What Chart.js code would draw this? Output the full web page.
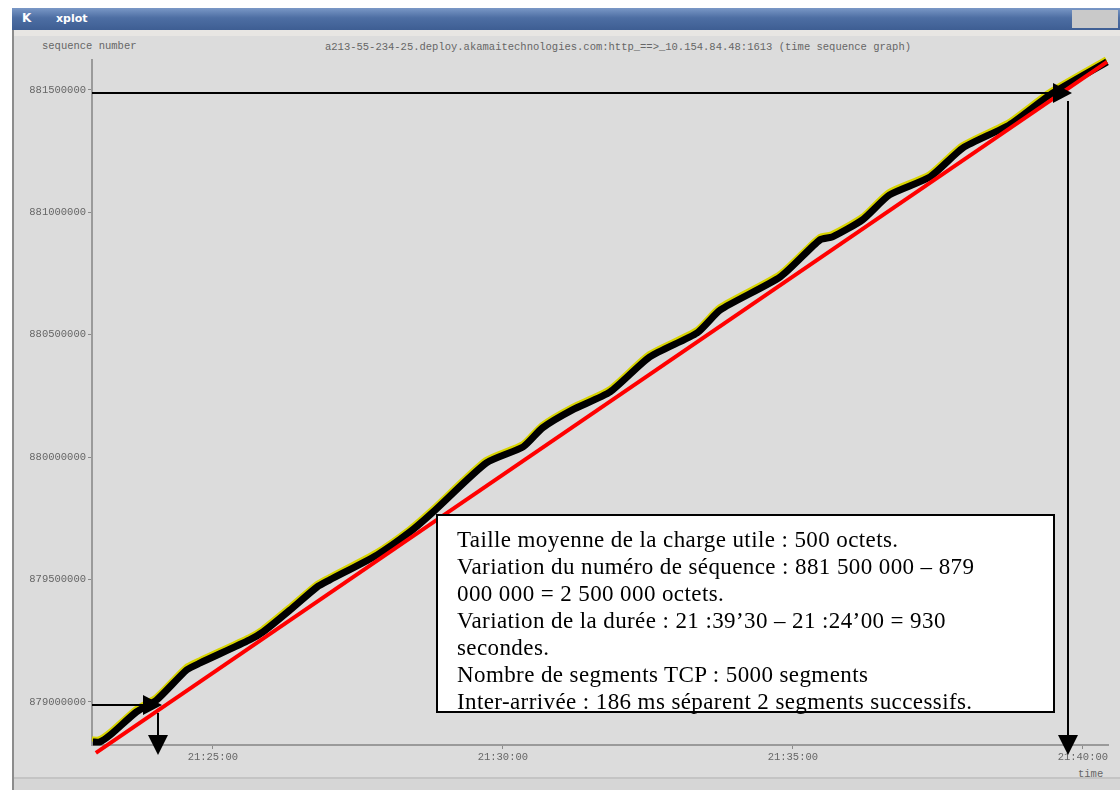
<!DOCTYPE html>
<html>
<head>
<meta charset="utf-8">
<script src="https://cdn.jsdelivr.net/npm/chart.js@4.4.0/dist/chart.umd.min.js"></script>
<style>
  body { margin: 0; width: 1120px; height: 790px; overflow: hidden; position: relative; background: #fff; }
  #win { position: absolute; left: 12px; top: 8px; width: 1108px; height: 782px; background: #dcdcdc;
         border-left: 2px solid #8c8c8c; box-sizing: border-box; }
  #titlebar { position: absolute; left: 12px; top: 8px; width: 1108px; height: 22px;
              background: linear-gradient(#7a98c6, #4d6ea3 45%, #3e5e93); }
  #titlebar .k { position: absolute; left: 10px; top: 3px; color: #fff; font: bold 12px 'DejaVu Sans', sans-serif; }
  #titlebar .name { position: absolute; left: 44px; top: 4px; color: #fff; font: bold 11px 'DejaVu Sans', sans-serif; }
  #titlebar .btns { position: absolute; right: 2px; top: 2px; width: 46px; height: 18px; background: #c9c9c9; }
  #menu { position: absolute; left: 14px; top: 30px; width: 1106px; height: 6px; background: #e8e6e3; }
  .chrome { position: absolute; font: 10.5px 'Liberation Mono', monospace; color: #666; white-space: nowrap; }
  #bottom { position: absolute; left: 14px; top: 777px; width: 1106px; height: 13px; border-top: 2px solid #c4c4c4;
            background: #d6d6d6; }
  canvas { position: absolute; left: 0; top: 0; }
  #note { position: absolute; left: 436px; top: 514px; width: 619px; height: 199px; box-sizing: border-box;
          border: 2px solid #000; background: #fff; padding: 10px 0 0 19px; letter-spacing: 0.4px;
          font: 23px 'Liberation Serif', 'Times New Roman', serif; line-height: 27px; color: #000; white-space: nowrap; }
</style>
</head>
<body>
<div id="win"></div>
<div id="titlebar"><span class="k">K</span><span class="name">xplot</span><div class="btns"></div></div>
<div id="menu"></div>
<div id="bottom"></div>
<div class="chrome" style="left:42px;top:40px;">sequence number</div>
<div class="chrome" style="left:325px;top:41px;">a213-55-234-25.deploy.akamaitechnologies.com:http_==&gt;_10.154.84.48:1613 (time sequence graph)</div>
<div class="chrome" style="left:1078px;top:768px;">time</div>
<canvas id="c" width="1120" height="790"></canvas>
<div id="note">
  <div>Taille moyenne de la charge utile : 500 octets.</div>
  <div>Variation du numéro de séquence : 881 500 000 – 879</div>
  <div>000 000 = 2 500 000 octets.</div>
  <div>Variation de la durée : 21 :39’30 – 21 :24’00 = 930</div>
  <div>secondes.</div>
  <div>Nombre de segments TCP : 5000 segments</div>
  <div>Inter-arrivée : 186 ms séparent 2 segments successifs.</div>
</div>
<script>
// time axis in seconds after 21:00:00
const seqTimes = [1376, 1383, 1394, 1421, 1442, 1473, 1487, 1538, 1552, 1580, 1608, 1621, 1670, 1704,
    1728, 1783, 1821, 1841, 1872, 1911, 1952, 2001, 2025, 2087, 2128, 2141, 2172, 2200, 2242, 2276,
    2324, 2366, 2425];
const seqNumbers = [878836600, 878836600, 878865200, 878959200, 879008200, 879130700, 879159300,
    879253300, 879286000, 879375800, 879469800, 879498400, 879600500, 879694500, 879776200, 879976300,
    880041700, 880119300, 880192800, 880266400, 880409300, 880507400, 880601300, 880736100, 880887300,
    880899500, 880969000, 881071100, 881144600, 881263100, 881357000, 881479600, 881614400];

// red fitted line
const fitTimes = [1379, 2425];
const fitSeq = [878791700, 881614400];

// hand drawn arrows: corner point (time, sequence)
const arrowTimes = [1443, 2385];
const arrowSeq = [878988000, 881488000];

const xTicks = [1500, 1800, 2100, 2400];
const yTicks = [879000000, 879500000, 880000000, 880500000, 881000000, 881500000];

const toXY = (xs, ys) => xs.map((x, i) => ({ x: x, y: ys[i] }));

function fmtTime(s) {
    const h = 21 + Math.floor(s / 3600);
    const m = Math.floor((s % 3600) / 60);
    const sec = s % 60;
    return h + ':' + String(m).padStart(2, '0') + ':' + String(sec).padStart(2, '0');
}

// datasets are painted last-to-first, so the yellow halo (index 2) goes down first
const arrowPlugin = {
    id: 'arrows',
    beforeDatasetDraw: (chart, args) => {
        if (args.index === 2) {
            chart.ctx.save();
            chart.ctx.translate(-1, -3);
        }
    },
    afterDatasetDraw: (chart, args) => {
        if (args.index === 2) chart.ctx.restore();
    },
    afterDatasetsDraw: (chart) => {
        const { ctx, chartArea } = chart;
        const xs = chart.scales.x;
        const ys = chart.scales.y;
        ctx.save();
        ctx.strokeStyle = '#000';
        ctx.fillStyle = '#000';
        ctx.lineWidth = 2;
        arrowTimes.forEach((t, i) => {
            const px = Math.round(xs.getPixelForValue(t));
            const py = Math.round(ys.getPixelForValue(arrowSeq[i]));
            const tip = px + 4;
            const bot = chartArea.bottom + 10;
            ctx.beginPath();
            ctx.moveTo(chartArea.left, py);
            ctx.lineTo(tip - 18, py);
            ctx.moveTo(px, py + 8);
            ctx.lineTo(px, bot - 18);
            ctx.stroke();
            ctx.beginPath();
            ctx.moveTo(tip, py);
            ctx.lineTo(tip - 19, py - 10);
            ctx.lineTo(tip - 19, py + 10);
            ctx.closePath();
            ctx.fill();
            ctx.beginPath();
            ctx.moveTo(px, bot);
            ctx.lineTo(px - 10, bot - 20);
            ctx.lineTo(px + 10, bot - 20);
            ctx.closePath();
            ctx.fill();
        });
        ctx.restore();
    },
};

new Chart(document.getElementById('c'), {
    type: 'line',
    data: {
        datasets: [
            {
                data: toXY(fitTimes, fitSeq),
                borderColor: '#ff0000',
                borderWidth: 4,
                pointRadius: 0,
                clip: false,
            },
            {
                data: toXY(seqTimes, seqNumbers),
                borderColor: '#000',
                borderWidth: 7,
                pointRadius: 0,
                tension: 0.2,
                clip: false,
            },
            {
                data: toXY(seqTimes, seqNumbers),
                borderColor: '#d8d400',
                borderWidth: 5,
                pointRadius: 0,
                tension: 0.2,
                clip: false,
            },
        ],
    },
    options: {
        responsive: false,
        animation: false,
        layout: { padding: { left: 0, right: 12, top: 60, bottom: 0 } },
        plugins: { legend: { display: false }, tooltip: { enabled: false } },
        scales: {
            x: {
                type: 'linear',
                min: 1375,
                max: 2426,
                afterBuildTicks: (s) => { s.ticks = xTicks.map((v) => ({ value: v })); },
                afterFit: (s) => { s.height = 45; },
                grid: { drawOnChartArea: false, tickLength: 4, color: '#8a8a8a' },
                border: { color: '#9a9a9a', width: 2 },
                ticks: {
                    color: '#666',
                    padding: 2,
                    maxRotation: 0,
                    font: { family: 'Liberation Mono', size: 10.5 },
                    callback: (v) => fmtTime(v),
                },
            },
            y: {
                type: 'linear',
                min: 878824000,
                max: 881622000,
                afterBuildTicks: (s) => { s.ticks = yTicks.map((v) => ({ value: v })); },
                afterFit: (s) => { s.width = 92; },
                grid: { drawOnChartArea: false, tickLength: 4, color: '#8a8a8a' },
                border: { color: '#9a9a9a', width: 2 },
                ticks: {
                    color: '#666',
                    padding: 2,
                    font: { family: 'Liberation Mono', size: 10.5 },
                    callback: (v) => String(v),
                },
            },
        },
    },
    plugins: [arrowPlugin],
});
</script>
</body>
</html>
